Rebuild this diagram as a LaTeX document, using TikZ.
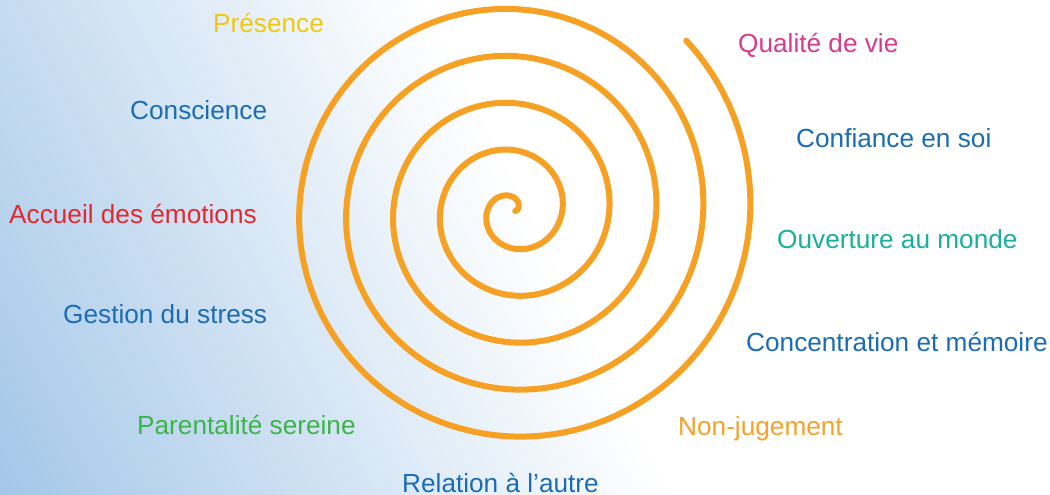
\documentclass[tikz,border=0pt]{standalone}
\usepackage{fontspec}
\setmainfont{Liberation Sans}
\definecolor{bgblue}{HTML}{A3C6E8}
\definecolor{spiralorange}{HTML}{F6A124}
\definecolor{cyellow}{HTML}{F2C80F}
\definecolor{cblue}{HTML}{1B6CB5}
\definecolor{cred}{HTML}{E3282E}
\definecolor{cgreen}{HTML}{3CB44A}
\definecolor{cmagenta}{HTML}{D93A8E}
\definecolor{cteal}{HTML}{19AE9F}
\definecolor{corange}{HTML}{F7A12A}
\begin{document}
\begin{tikzpicture}[x=1pt,y=-1pt,
  lbl/.style={anchor=base west, inner sep=0pt, font=\fontsize{26.2}{30}\selectfont},
  spiralline/.style={draw=spiralorange, line width=6pt, line cap=round, line join=round}]
\useasboundingbox (0,0) rectangle (1050,495);
\fill[white] (0,0) rectangle (1050,495);
\begin{scope}
\clip (0,0) rectangle (1050,495);
\foreach \i in {0,...,77} {
  \pgfmathsetmacro\sa{-240+8*\i}
  \pgfmathsetmacro\sb{\sa+9}
  \pgfmathtruncatemacro\p{max(0,min(100,(376-\sa)/6.03))}
  \fill[bgblue!\p!white] ({\sa*0.893-50*0.451},{0-\sa*0.451-50*0.893}) -- ({\sb*0.893-50*0.451},{0-\sb*0.451-50*0.893}) -- ({\sb*0.893+1000*0.451},{0-\sb*0.451+1000*0.893}) -- ({\sa*0.893+1000*0.451},{0-\sa*0.451+1000*0.893}) -- cycle;
}
\end{scope}
% spiral
\draw[spiralline] plot[domain=0:32.2, samples=500, smooth, variable=\t]
  ({513+7.48*(\t+0.3)*cos(\t r)}, {211-7.48*(\t+0.3)*sin(\t r)});
% labels left
\node[lbl, text=cyellow] (presence) at (213,33) {Présence};
\node[lbl, text=cblue] (conscience) at (130,119) {Conscience};
\node[lbl, text=cred] (accueil) at (9,223) {Accueil des émotions};
\node[lbl, text=cblue] (gestion) at (63,323) {Gestion du stress};
\node[lbl, text=cgreen] (parentalite) at (137,434) {Parentalité sereine};
\node[lbl, text=cblue] (relation) at (402,492) {Relation à l’autre};
% labels right
\node[lbl, text=cmagenta] (qualite) at (738,53) {Qualité de vie};
\node[lbl, text=cblue] (confiance) at (796,147) {Confiance en soi};
\node[lbl, text=cteal] (ouverture) at (777,248) {Ouverture au monde};
\node[lbl, text=cblue] (concentration) at (746,351) {Concentration et mémoire};
\node[lbl, text=corange] (nonjugement) at (678,435) {Non-jugement};
\end{tikzpicture}
\end{document}
